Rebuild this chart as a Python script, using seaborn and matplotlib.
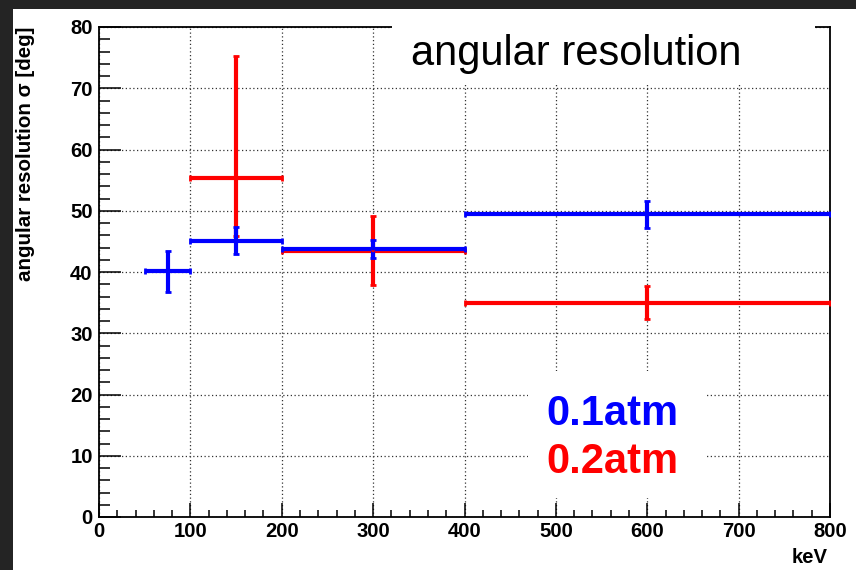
import matplotlib
matplotlib.use("Agg")
import matplotlib.pyplot as plt
from matplotlib.patches import Rectangle
from matplotlib.ticker import MultipleLocator
import numpy as np
import pandas as pd
import seaborn as sns

# Angular resolution per energy bin, for two gas pressures
blue_center = [75, 150, 300, 600]          # keV
blue_halfwidth = [25, 50, 100, 200]        # keV
blue_sigma = [40.15, 45.1, 43.8, 49.4]     # deg
blue_err = [3.35, 2.2, 1.5, 2.15]          # deg

red_center = [150, 300, 600]
red_halfwidth = [50, 100, 200]
red_sigma = [55.3, 43.5, 35.0]
red_err_lo = [9.5, 5.7, 2.65]
red_err_hi = [19.9, 5.7, 2.65]

x_ticks = [0, 100, 200, 300, 400, 500, 600, 700, 800]
y_ticks = [0, 10, 20, 30, 40, 50, 60, 70, 80]

BLUE = "#0000ff"
RED = "#ff0000"

sns.set_style("white")
plt.rcParams["font.family"] = ["Liberation Sans", "DejaVu Sans"]

W, H = 856, 570
fig = plt.figure(figsize=(W / 100, H / 100), dpi=100)
fig.patch.set_facecolor("#242424")

# white canvas
fig.add_artist(Rectangle((13 / W, 0), 1 - 13 / W, 1 - 9 / H,
                         transform=fig.transFigure, facecolor="white",
                         edgecolor="none", zorder=-10))

ax = fig.add_axes([99 / W, 1 - 517 / H, (830 - 99) / W, (517 - 27) / H])
ax.set_facecolor("white")

df = pd.DataFrame({
    "energy": red_center + blue_center,
    "sigma": red_sigma + blue_sigma,
    "pressure": ["0.2atm"] * len(red_center) + ["0.1atm"] * len(blue_center),
})

ebar = dict(fmt="none", elinewidth=3.0, capsize=2.3, capthick=2.0, zorder=3)
ax.errorbar(red_center, red_sigma, xerr=red_halfwidth,
            yerr=[red_err_lo, red_err_hi], ecolor=RED, **ebar)
ax.errorbar(blue_center, blue_sigma, xerr=blue_halfwidth,
            yerr=blue_err, ecolor=BLUE, **ebar)
sns.scatterplot(data=df, x="energy", y="sigma", hue="pressure",
                palette={"0.1atm": BLUE, "0.2atm": RED}, s=6,
                edgecolor="none", legend=False, ax=ax, zorder=4)

ax.set_xlim(0, 800)
ax.set_ylim(0, 80)
ax.set_xticks(x_ticks)
ax.set_yticks(y_ticks)
ax.set_xticklabels([str(v) for v in x_ticks])
ax.set_yticklabels([str(v) for v in y_ticks])
ax.xaxis.set_minor_locator(MultipleLocator(20))
ax.yaxis.set_minor_locator(MultipleLocator(2))
ax.set_xlabel("")
ax.set_ylabel("")

ax.grid(True, which="major", color="#333333", linestyle=(0, (1, 2.0)),
        linewidth=0.9)
ax.set_axisbelow(True)

for s in ax.spines.values():
    s.set_visible(True)
    s.set_color("black")
    s.set_linewidth(1.3)

ax.tick_params(axis="y", which="major", direction="in", length=15.8,
               width=1.1, color="black", pad=4.5, left=True, right=False)
ax.tick_params(axis="y", which="minor", direction="in", length=7.9,
               width=1.1, color="black", left=True, right=False)
ax.tick_params(axis="x", which="major", direction="in", length=10,
               width=1.1, color="black", pad=3.5, bottom=True, top=False)
ax.tick_params(axis="x", which="minor", direction="in", length=5,
               width=1.1, color="black", bottom=True, top=False)
for lab in ax.get_xticklabels() + ax.get_yticklabels():
    lab.set_fontfamily("Liberation Sans")
    lab.set_fontweight("bold")
    lab.set_fontsize(14.6)
    lab.set_color("black")

# axis titles
fig.text(25.5 / W, 1 - 27 / H, "angular resolution σ [deg]", rotation=90,
         ha="center", va="top", fontsize=14.8, fontweight="bold",
         color="black", family=["Liberation Sans", "DejaVu Sans"])
fig.text(828 / W, 1 - 563 / H, "keV", ha="right", va="baseline",
         fontsize=14.6, fontweight="bold", color="black")

# title box
fig.add_artist(Rectangle((392 / W, 1 - 84 / H), (815 - 392) / W, (84 - 15) / H,
                         transform=fig.transFigure, facecolor="white",
                         edgecolor="none", zorder=5))
fig.text(411 / W, 1 - 65 / H, "angular resolution", ha="left", va="baseline",
         fontsize=30, color="black", zorder=6)

# pressure labels box
fig.add_artist(Rectangle((528 / W, 1 - 498 / H), (705 - 528) / W, (498 - 371) / H,
                         transform=fig.transFigure, facecolor="white",
                         edgecolor="none", zorder=5))
fig.text(546 / W, 1 - 425 / H, "0.1atm", ha="left", va="baseline",
         fontsize=30, fontweight="bold", color=BLUE, zorder=6)
fig.text(546 / W, 1 - 473 / H, "0.2atm", ha="left", va="baseline",
         fontsize=30, fontweight="bold", color=RED, zorder=6)

fig.savefig("out.png", dpi=100, facecolor=fig.get_facecolor())
